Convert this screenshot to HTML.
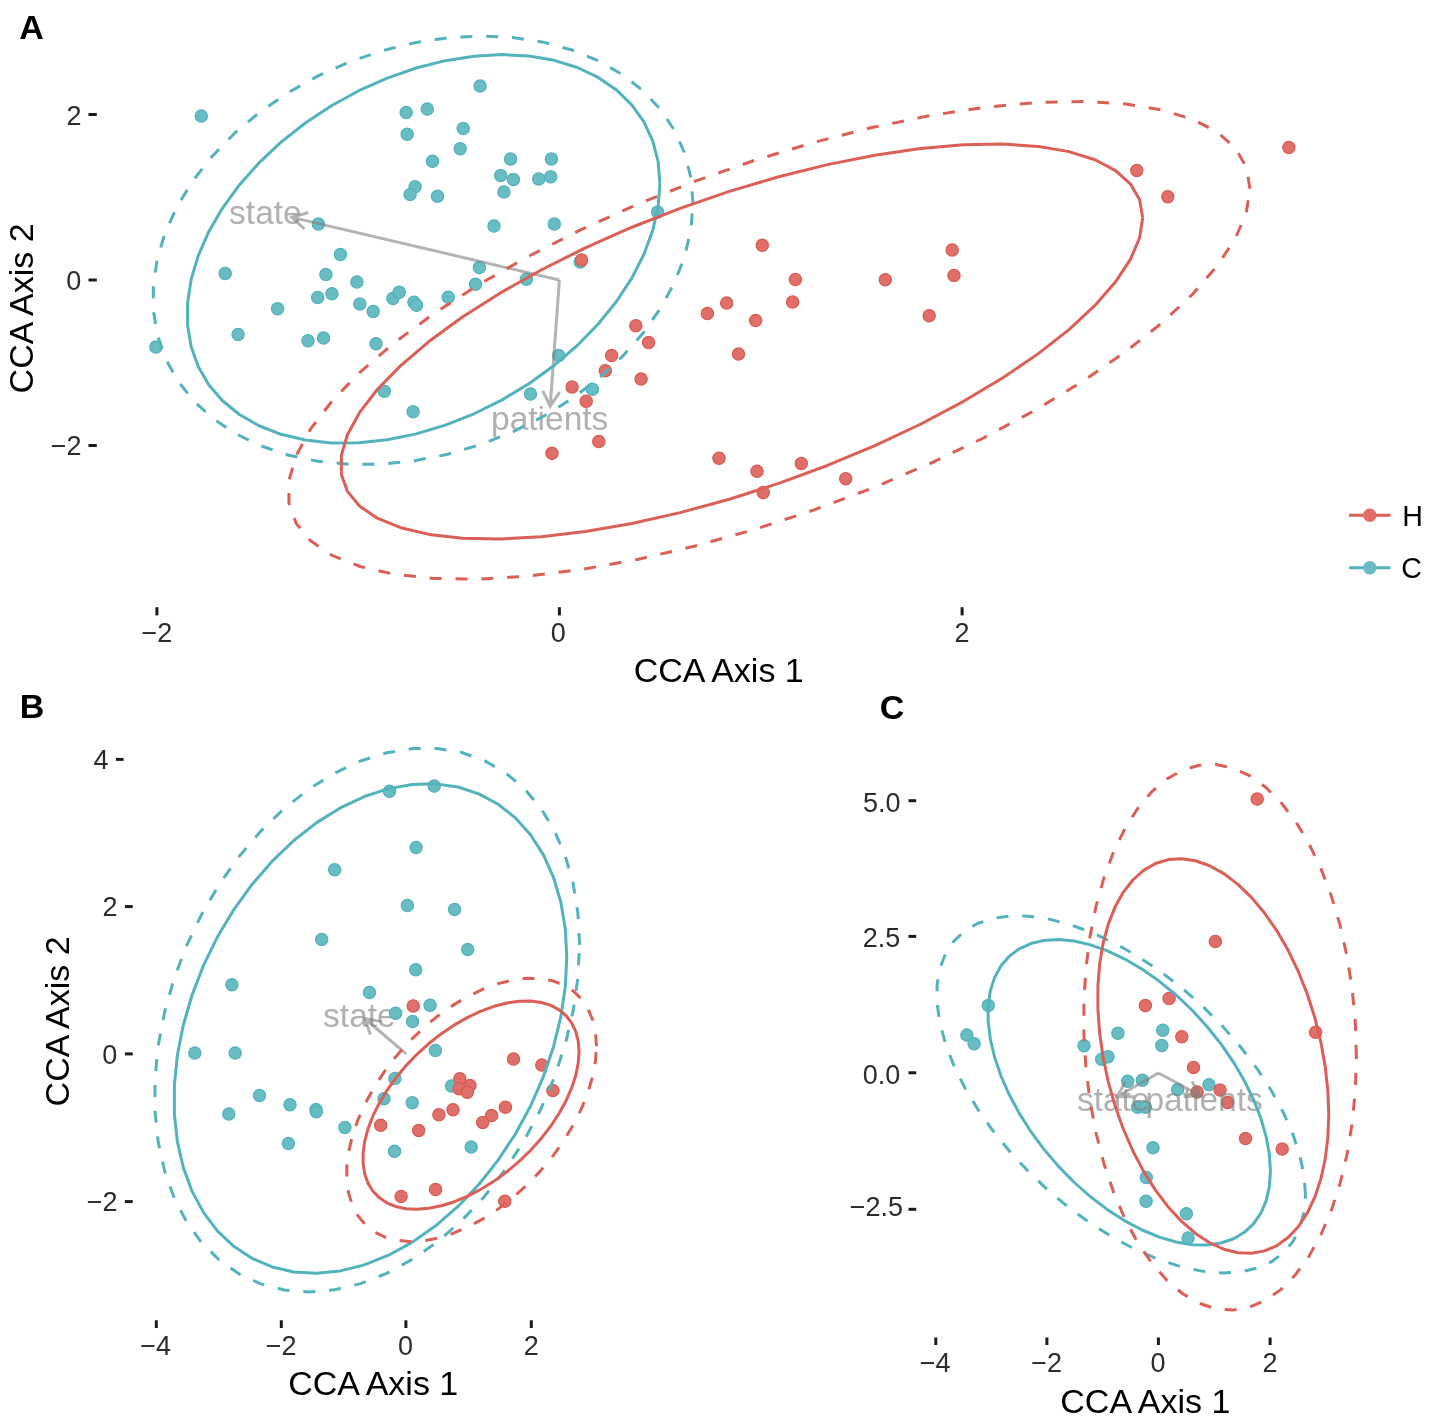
<!DOCTYPE html>
<html><head><meta charset="utf-8"><style>
html,body{margin:0;padding:0;background:#fff;overflow:hidden;}
svg{display:block;font-family:"Liberation Sans",sans-serif;}
svg{will-change:transform;}
</style></head><body>
<svg width="1430" height="1421" viewBox="0 0 1430 1421">
<rect width="1430" height="1421" fill="#fff"/>
<line x1="88.5" y1="114.5" x2="96.8" y2="114.5" stroke="#1a1a1a" stroke-width="3"/>
<line x1="88.5" y1="280.0" x2="96.8" y2="280.0" stroke="#1a1a1a" stroke-width="3"/>
<line x1="88.5" y1="445.5" x2="96.8" y2="445.5" stroke="#1a1a1a" stroke-width="3"/>
<line x1="156.9" y1="607.2" x2="156.9" y2="615.4" stroke="#1a1a1a" stroke-width="3"/>
<line x1="559.4" y1="607.2" x2="559.4" y2="615.4" stroke="#1a1a1a" stroke-width="3"/>
<line x1="962.1" y1="607.2" x2="962.1" y2="615.4" stroke="#1a1a1a" stroke-width="3"/>
<circle cx="201.3" cy="116.0" r="6.15" fill="#68BCC3" stroke="#52B2BA" stroke-width="1.2"/>
<circle cx="1288.9" cy="147.5" r="6.15" fill="#DF6F68" stroke="#D75B54" stroke-width="1.2"/>
<circle cx="225.2" cy="273.6" r="6.15" fill="#68BCC3" stroke="#52B2BA" stroke-width="1.2"/>
<circle cx="277.6" cy="308.8" r="6.15" fill="#68BCC3" stroke="#52B2BA" stroke-width="1.2"/>
<circle cx="238.1" cy="334.5" r="6.15" fill="#68BCC3" stroke="#52B2BA" stroke-width="1.2"/>
<circle cx="155.9" cy="347.1" r="6.15" fill="#68BCC3" stroke="#52B2BA" stroke-width="1.2"/>
<circle cx="318.4" cy="223.9" r="6.15" fill="#68BCC3" stroke="#52B2BA" stroke-width="1.2"/>
<circle cx="325.9" cy="274.6" r="6.15" fill="#68BCC3" stroke="#52B2BA" stroke-width="1.2"/>
<circle cx="317.7" cy="297.5" r="6.15" fill="#68BCC3" stroke="#52B2BA" stroke-width="1.2"/>
<circle cx="331.9" cy="293.7" r="6.15" fill="#68BCC3" stroke="#52B2BA" stroke-width="1.2"/>
<circle cx="308.0" cy="340.8" r="6.15" fill="#68BCC3" stroke="#52B2BA" stroke-width="1.2"/>
<circle cx="323.5" cy="338.1" r="6.15" fill="#68BCC3" stroke="#52B2BA" stroke-width="1.2"/>
<circle cx="340.4" cy="254.6" r="6.15" fill="#68BCC3" stroke="#52B2BA" stroke-width="1.2"/>
<circle cx="356.9" cy="282.0" r="6.15" fill="#68BCC3" stroke="#52B2BA" stroke-width="1.2"/>
<circle cx="359.8" cy="303.9" r="6.15" fill="#68BCC3" stroke="#52B2BA" stroke-width="1.2"/>
<circle cx="373.2" cy="311.6" r="6.15" fill="#68BCC3" stroke="#52B2BA" stroke-width="1.2"/>
<circle cx="392.9" cy="298.5" r="6.15" fill="#68BCC3" stroke="#52B2BA" stroke-width="1.2"/>
<circle cx="399.2" cy="292.2" r="6.15" fill="#68BCC3" stroke="#52B2BA" stroke-width="1.2"/>
<circle cx="414.0" cy="302.2" r="6.15" fill="#68BCC3" stroke="#52B2BA" stroke-width="1.2"/>
<circle cx="416.5" cy="305.3" r="6.15" fill="#68BCC3" stroke="#52B2BA" stroke-width="1.2"/>
<circle cx="448.2" cy="297.2" r="6.15" fill="#68BCC3" stroke="#52B2BA" stroke-width="1.2"/>
<circle cx="479.4" cy="267.5" r="6.15" fill="#68BCC3" stroke="#52B2BA" stroke-width="1.2"/>
<circle cx="475.5" cy="284.2" r="6.15" fill="#68BCC3" stroke="#52B2BA" stroke-width="1.2"/>
<circle cx="494.0" cy="226.0" r="6.15" fill="#68BCC3" stroke="#52B2BA" stroke-width="1.2"/>
<circle cx="376.0" cy="343.7" r="6.15" fill="#68BCC3" stroke="#52B2BA" stroke-width="1.2"/>
<circle cx="415.1" cy="186.8" r="6.15" fill="#68BCC3" stroke="#52B2BA" stroke-width="1.2"/>
<circle cx="410.1" cy="194.5" r="6.15" fill="#68BCC3" stroke="#52B2BA" stroke-width="1.2"/>
<circle cx="437.5" cy="196.2" r="6.15" fill="#68BCC3" stroke="#52B2BA" stroke-width="1.2"/>
<circle cx="503.9" cy="192.0" r="6.15" fill="#68BCC3" stroke="#52B2BA" stroke-width="1.2"/>
<circle cx="554.3" cy="224.1" r="6.15" fill="#68BCC3" stroke="#52B2BA" stroke-width="1.2"/>
<circle cx="657.6" cy="212.1" r="6.15" fill="#68BCC3" stroke="#52B2BA" stroke-width="1.2"/>
<circle cx="526.4" cy="279.2" r="6.15" fill="#68BCC3" stroke="#52B2BA" stroke-width="1.2"/>
<circle cx="580.2" cy="261.9" r="6.15" fill="#68BCC3" stroke="#52B2BA" stroke-width="1.2"/>
<circle cx="581.6" cy="259.9" r="6.15" fill="#DF6F68" stroke="#D75B54" stroke-width="1.2"/>
<circle cx="558.8" cy="355.6" r="6.15" fill="#68BCC3" stroke="#52B2BA" stroke-width="1.2"/>
<circle cx="635.8" cy="325.7" r="6.15" fill="#DF6F68" stroke="#D75B54" stroke-width="1.2"/>
<circle cx="648.6" cy="342.6" r="6.15" fill="#DF6F68" stroke="#D75B54" stroke-width="1.2"/>
<circle cx="611.6" cy="355.6" r="6.15" fill="#DF6F68" stroke="#D75B54" stroke-width="1.2"/>
<circle cx="605.3" cy="370.7" r="6.15" fill="#DF6F68" stroke="#D75B54" stroke-width="1.2"/>
<circle cx="480.1" cy="86.0" r="6.15" fill="#68BCC3" stroke="#52B2BA" stroke-width="1.2"/>
<circle cx="406.2" cy="112.5" r="6.15" fill="#68BCC3" stroke="#52B2BA" stroke-width="1.2"/>
<circle cx="427.3" cy="109.0" r="6.15" fill="#68BCC3" stroke="#52B2BA" stroke-width="1.2"/>
<circle cx="407.2" cy="134.3" r="6.15" fill="#68BCC3" stroke="#52B2BA" stroke-width="1.2"/>
<circle cx="463.2" cy="128.5" r="6.15" fill="#68BCC3" stroke="#52B2BA" stroke-width="1.2"/>
<circle cx="460.2" cy="148.7" r="6.15" fill="#68BCC3" stroke="#52B2BA" stroke-width="1.2"/>
<circle cx="432.5" cy="161.3" r="6.15" fill="#68BCC3" stroke="#52B2BA" stroke-width="1.2"/>
<circle cx="510.6" cy="158.9" r="6.15" fill="#68BCC3" stroke="#52B2BA" stroke-width="1.2"/>
<circle cx="551.4" cy="158.9" r="6.15" fill="#68BCC3" stroke="#52B2BA" stroke-width="1.2"/>
<circle cx="500.7" cy="175.4" r="6.15" fill="#68BCC3" stroke="#52B2BA" stroke-width="1.2"/>
<circle cx="513.4" cy="179.4" r="6.15" fill="#68BCC3" stroke="#52B2BA" stroke-width="1.2"/>
<circle cx="538.7" cy="178.9" r="6.15" fill="#68BCC3" stroke="#52B2BA" stroke-width="1.2"/>
<circle cx="550.7" cy="176.8" r="6.15" fill="#68BCC3" stroke="#52B2BA" stroke-width="1.2"/>
<circle cx="738.5" cy="354.1" r="6.15" fill="#DF6F68" stroke="#D75B54" stroke-width="1.2"/>
<circle cx="641.1" cy="379.1" r="6.15" fill="#DF6F68" stroke="#D75B54" stroke-width="1.2"/>
<circle cx="572.1" cy="386.9" r="6.15" fill="#DF6F68" stroke="#D75B54" stroke-width="1.2"/>
<circle cx="592.4" cy="389.3" r="6.15" fill="#68BCC3" stroke="#52B2BA" stroke-width="1.2"/>
<circle cx="586.2" cy="401.2" r="6.15" fill="#DF6F68" stroke="#D75B54" stroke-width="1.2"/>
<circle cx="598.8" cy="441.6" r="6.15" fill="#DF6F68" stroke="#D75B54" stroke-width="1.2"/>
<circle cx="552.0" cy="453.3" r="6.15" fill="#DF6F68" stroke="#D75B54" stroke-width="1.2"/>
<circle cx="719.0" cy="458.2" r="6.15" fill="#DF6F68" stroke="#D75B54" stroke-width="1.2"/>
<circle cx="762.3" cy="245.3" r="6.15" fill="#DF6F68" stroke="#D75B54" stroke-width="1.2"/>
<circle cx="795.4" cy="279.4" r="6.15" fill="#DF6F68" stroke="#D75B54" stroke-width="1.2"/>
<circle cx="726.7" cy="303.0" r="6.15" fill="#DF6F68" stroke="#D75B54" stroke-width="1.2"/>
<circle cx="707.4" cy="313.6" r="6.15" fill="#DF6F68" stroke="#D75B54" stroke-width="1.2"/>
<circle cx="792.6" cy="301.9" r="6.15" fill="#DF6F68" stroke="#D75B54" stroke-width="1.2"/>
<circle cx="755.6" cy="320.5" r="6.15" fill="#DF6F68" stroke="#D75B54" stroke-width="1.2"/>
<circle cx="885.3" cy="279.8" r="6.15" fill="#DF6F68" stroke="#D75B54" stroke-width="1.2"/>
<circle cx="952.2" cy="250.0" r="6.15" fill="#DF6F68" stroke="#D75B54" stroke-width="1.2"/>
<circle cx="954.0" cy="275.6" r="6.15" fill="#DF6F68" stroke="#D75B54" stroke-width="1.2"/>
<circle cx="929.2" cy="315.7" r="6.15" fill="#DF6F68" stroke="#D75B54" stroke-width="1.2"/>
<circle cx="384.3" cy="391.3" r="6.15" fill="#68BCC3" stroke="#52B2BA" stroke-width="1.2"/>
<circle cx="413.1" cy="411.8" r="6.15" fill="#68BCC3" stroke="#52B2BA" stroke-width="1.2"/>
<circle cx="530.5" cy="394.0" r="6.15" fill="#68BCC3" stroke="#52B2BA" stroke-width="1.2"/>
<circle cx="1136.8" cy="170.4" r="6.15" fill="#DF6F68" stroke="#D75B54" stroke-width="1.2"/>
<circle cx="1167.8" cy="196.7" r="6.15" fill="#DF6F68" stroke="#D75B54" stroke-width="1.2"/>
<circle cx="757.0" cy="471.2" r="6.15" fill="#DF6F68" stroke="#D75B54" stroke-width="1.2"/>
<circle cx="801.3" cy="463.6" r="6.15" fill="#DF6F68" stroke="#D75B54" stroke-width="1.2"/>
<circle cx="763.3" cy="492.4" r="6.15" fill="#DF6F68" stroke="#D75B54" stroke-width="1.2"/>
<circle cx="845.7" cy="478.7" r="6.15" fill="#DF6F68" stroke="#D75B54" stroke-width="1.2"/>
<g stroke="#808080" stroke-opacity="0.6" stroke-width="3" fill="none"><path d="M559.4 280.0 L292.0 217.4 M308.3 212.5 L292.0 217.4 L304.4 229.0"/><path d="M559.4 280.0 L550.2 406.2 M542.8 390.9 L550.2 406.2 L559.7 392.1"/></g>
<text x="229.10" y="224.30" font-size="33.5" font-weight="400" text-anchor="start" fill="#808080" fill-opacity="0.62">state</text>
<text x="491.00" y="430.00" font-size="33.5" font-weight="400" text-anchor="start" fill="#808080" fill-opacity="0.62">patients</text>
<path d="M659.92 183.70 L658.13 161.71 L652.78 141.03 L643.95 121.99 L631.79 104.87 L616.47 89.94 L598.22 77.41 L577.32 67.49 L554.10 60.32 L528.89 56.01 L502.09 54.62 L474.09 56.17 L445.33 60.65 L416.24 67.98 L387.26 78.06 L358.83 90.72 L331.38 105.79 L305.32 123.02 L281.06 142.16 L258.96 162.92 L239.35 184.99 L222.53 208.02 L208.76 231.67 L198.25 255.59 L191.15 279.40 L187.57 302.76 L187.57 325.29 L191.15 346.67 L198.25 366.57 L208.76 384.68 L222.53 400.74 L239.35 414.49 L258.96 425.73 L281.06 434.30 L305.32 440.05 L331.38 442.91 L358.83 442.83 L387.26 439.80 L416.24 433.89 L445.33 425.17 L474.09 413.77 L502.09 399.88 L528.89 383.70 L554.10 365.48 L577.32 345.49 L598.22 324.04 L616.47 301.45 L631.79 278.06 L643.95 254.23 L652.78 230.32 L658.13 206.69 L659.92 183.70" fill="none" stroke="#52B3BC" stroke-width="3.0" stroke-linejoin="round"/>
<path d="M693.00 203.24 L690.95 177.90 L684.84 153.66 L674.76 130.88 L660.86 109.92 L643.35 91.08 L622.51 74.66 L598.63 60.90 L572.09 50.01 L543.29 42.16 L512.67 37.47 L480.68 36.00 L447.82 37.78 L414.58 42.78 L381.47 50.93 L348.98 62.10 L317.62 76.13 L287.85 92.79 L260.12 111.85 L234.87 133.00 L212.47 155.93 L193.25 180.29 L177.52 205.72 L165.51 231.82 L157.39 258.20 L153.31 284.46 L153.31 310.21 L157.39 335.04 L165.51 358.59 L177.52 380.51 L193.25 400.44 L212.47 418.11 L234.87 433.23 L260.12 445.57 L287.85 454.96 L317.62 461.25 L348.98 464.33 L381.47 464.18 L414.58 460.78 L447.82 454.19 L480.68 444.51 L512.67 431.89 L543.29 416.52 L572.09 398.62 L598.63 378.48 L622.51 356.40 L643.35 332.71 L660.86 307.77 L674.76 281.95 L684.84 255.66 L690.95 229.29 L693.00 203.24" fill="none" stroke="#52B3BC" stroke-width="3.0" stroke-linejoin="round" stroke-dasharray="12.0 13.85"/>
<path d="M1142.68 217.86 L1139.64 199.87 L1130.57 184.03 L1115.60 170.58 L1094.96 159.72 L1068.97 151.61 L1038.01 146.38 L1002.57 144.11 L963.16 144.84 L920.40 148.54 L874.93 155.17 L827.43 164.63 L778.64 176.76 L729.29 191.40 L680.12 208.31 L631.88 227.23 L585.31 247.90 L541.11 269.98 L499.95 293.14 L462.45 317.04 L429.19 341.31 L400.66 365.58 L377.30 389.48 L359.46 412.66 L347.42 434.77 L341.35 455.45 L341.35 474.41 L347.42 491.36 L359.46 506.03 L377.30 518.21 L400.66 527.72 L429.19 534.39 L462.45 538.15 L499.95 538.92 L541.11 536.71 L585.31 531.53 L631.88 523.47 L680.12 512.65 L729.29 499.24 L778.64 483.44 L827.43 465.49 L874.93 445.66 L920.40 424.25 L963.16 401.58 L1002.57 378.01 L1038.01 353.88 L1068.97 329.56 L1094.96 305.43 L1115.60 281.84 L1130.57 259.15 L1139.64 237.72 L1142.68 217.86" fill="none" stroke="#DB5F57" stroke-width="3.0" stroke-linejoin="round"/>
<path d="M1249.98 188.64 L1246.34 167.10 L1235.46 148.19 L1217.50 132.19 L1192.75 119.35 L1161.58 109.85 L1124.45 103.85 L1081.94 101.43 L1034.68 102.64 L983.39 107.45 L928.86 115.79 L871.90 127.53 L813.38 142.50 L754.19 160.47 L695.22 181.16 L637.37 204.27 L581.52 229.44 L528.51 256.29 L479.14 284.42 L434.17 313.39 L394.27 342.77 L360.06 372.12 L332.04 400.98 L310.65 428.92 L296.21 455.52 L288.93 480.38 L288.93 503.11 L296.21 523.37 L310.65 540.86 L332.04 555.31 L360.06 566.50 L394.27 574.26 L434.17 578.48 L479.14 579.09 L528.51 576.07 L581.52 569.49 L637.37 559.43 L695.22 546.04 L754.19 529.54 L813.38 510.18 L871.90 488.23 L928.86 464.05 L983.39 437.99 L1034.68 410.45 L1081.94 381.84 L1124.45 352.61 L1161.58 323.19 L1192.75 294.03 L1217.50 265.58 L1235.46 238.25 L1246.34 212.48 L1249.98 188.64" fill="none" stroke="#DB5F57" stroke-width="3.0" stroke-linejoin="round" stroke-dasharray="12.0 13.85"/>
<line x1="1349" y1="515.3" x2="1390.5" y2="515.3" stroke="#DB5F57" stroke-width="3"/><circle cx="1369.8" cy="515.3" r="6.75" fill="#DF6F68"/>
<line x1="1349" y1="567.8" x2="1390.5" y2="567.8" stroke="#52B3BC" stroke-width="3"/><circle cx="1369.8" cy="567.8" r="6.75" fill="#68BCC3"/>
<line x1="115.9" y1="759.4" x2="123.6" y2="759.4" stroke="#1a1a1a" stroke-width="3"/>
<line x1="124.9" y1="906.6" x2="132.7" y2="906.6" stroke="#1a1a1a" stroke-width="3"/>
<line x1="124.9" y1="1053.9" x2="132.7" y2="1053.9" stroke="#1a1a1a" stroke-width="3"/>
<line x1="124.9" y1="1201.6" x2="132.7" y2="1201.6" stroke="#1a1a1a" stroke-width="3"/>
<line x1="156.3" y1="1320.3" x2="156.3" y2="1328" stroke="#1a1a1a" stroke-width="3"/>
<line x1="281.3" y1="1320.3" x2="281.3" y2="1328" stroke="#1a1a1a" stroke-width="3"/>
<line x1="405.9" y1="1320.3" x2="405.9" y2="1328" stroke="#1a1a1a" stroke-width="3"/>
<line x1="531.3" y1="1320.3" x2="531.3" y2="1328" stroke="#1a1a1a" stroke-width="3"/>
<g stroke="#808080" stroke-opacity="0.6" stroke-width="3" fill="none"><path d="M406.1 1053.9 L364.8 1018.5 M381.5 1021.6 L364.8 1018.5 L370.4 1034.5"/></g>
<text x="323.10" y="1027.30" font-size="33.5" font-weight="400" text-anchor="start" fill="#808080" fill-opacity="0.62">state</text>
<circle cx="334.7" cy="869.8" r="6.15" fill="#68BCC3" stroke="#52B2BA" stroke-width="1.2"/>
<circle cx="389.5" cy="791.2" r="6.15" fill="#68BCC3" stroke="#52B2BA" stroke-width="1.2"/>
<circle cx="434.2" cy="786.0" r="6.15" fill="#68BCC3" stroke="#52B2BA" stroke-width="1.2"/>
<circle cx="416.1" cy="847.5" r="6.15" fill="#68BCC3" stroke="#52B2BA" stroke-width="1.2"/>
<circle cx="407.4" cy="905.6" r="6.15" fill="#68BCC3" stroke="#52B2BA" stroke-width="1.2"/>
<circle cx="454.6" cy="909.5" r="6.15" fill="#68BCC3" stroke="#52B2BA" stroke-width="1.2"/>
<circle cx="467.7" cy="949.6" r="6.15" fill="#68BCC3" stroke="#52B2BA" stroke-width="1.2"/>
<circle cx="321.7" cy="939.4" r="6.15" fill="#68BCC3" stroke="#52B2BA" stroke-width="1.2"/>
<circle cx="231.9" cy="984.7" r="6.15" fill="#68BCC3" stroke="#52B2BA" stroke-width="1.2"/>
<circle cx="194.8" cy="1053.0" r="6.15" fill="#68BCC3" stroke="#52B2BA" stroke-width="1.2"/>
<circle cx="235.2" cy="1053.0" r="6.15" fill="#68BCC3" stroke="#52B2BA" stroke-width="1.2"/>
<circle cx="259.5" cy="1095.6" r="6.15" fill="#68BCC3" stroke="#52B2BA" stroke-width="1.2"/>
<circle cx="290.0" cy="1104.7" r="6.15" fill="#68BCC3" stroke="#52B2BA" stroke-width="1.2"/>
<circle cx="316.0" cy="1109.5" r="6.15" fill="#68BCC3" stroke="#52B2BA" stroke-width="1.2"/>
<circle cx="316.3" cy="1111.8" r="6.15" fill="#68BCC3" stroke="#52B2BA" stroke-width="1.2"/>
<circle cx="228.8" cy="1114.0" r="6.15" fill="#68BCC3" stroke="#52B2BA" stroke-width="1.2"/>
<circle cx="415.7" cy="969.7" r="6.15" fill="#68BCC3" stroke="#52B2BA" stroke-width="1.2"/>
<circle cx="369.5" cy="992.5" r="6.15" fill="#68BCC3" stroke="#52B2BA" stroke-width="1.2"/>
<circle cx="430.1" cy="1005.2" r="6.15" fill="#68BCC3" stroke="#52B2BA" stroke-width="1.2"/>
<circle cx="395.6" cy="1013.2" r="6.15" fill="#68BCC3" stroke="#52B2BA" stroke-width="1.2"/>
<circle cx="412.6" cy="1021.6" r="6.15" fill="#68BCC3" stroke="#52B2BA" stroke-width="1.2"/>
<circle cx="435.4" cy="1050.6" r="6.15" fill="#68BCC3" stroke="#52B2BA" stroke-width="1.2"/>
<circle cx="394.9" cy="1078.6" r="6.15" fill="#68BCC3" stroke="#52B2BA" stroke-width="1.2"/>
<circle cx="451.5" cy="1086.0" r="6.15" fill="#68BCC3" stroke="#52B2BA" stroke-width="1.2"/>
<circle cx="384.0" cy="1098.7" r="6.15" fill="#68BCC3" stroke="#52B2BA" stroke-width="1.2"/>
<circle cx="412.2" cy="1102.7" r="6.15" fill="#68BCC3" stroke="#52B2BA" stroke-width="1.2"/>
<circle cx="344.9" cy="1127.4" r="6.15" fill="#68BCC3" stroke="#52B2BA" stroke-width="1.2"/>
<circle cx="288.4" cy="1143.6" r="6.15" fill="#68BCC3" stroke="#52B2BA" stroke-width="1.2"/>
<circle cx="394.5" cy="1151.2" r="6.15" fill="#68BCC3" stroke="#52B2BA" stroke-width="1.2"/>
<circle cx="471.2" cy="1147.0" r="6.15" fill="#68BCC3" stroke="#52B2BA" stroke-width="1.2"/>
<circle cx="413.2" cy="1005.9" r="6.15" fill="#DF6F68" stroke="#D75B54" stroke-width="1.2"/>
<circle cx="513.5" cy="1059.1" r="6.15" fill="#DF6F68" stroke="#D75B54" stroke-width="1.2"/>
<circle cx="459.8" cy="1078.7" r="6.15" fill="#DF6F68" stroke="#D75B54" stroke-width="1.2"/>
<circle cx="470.0" cy="1085.6" r="6.15" fill="#DF6F68" stroke="#D75B54" stroke-width="1.2"/>
<circle cx="459.0" cy="1088.7" r="6.15" fill="#DF6F68" stroke="#D75B54" stroke-width="1.2"/>
<circle cx="467.3" cy="1092.3" r="6.15" fill="#DF6F68" stroke="#D75B54" stroke-width="1.2"/>
<circle cx="453.0" cy="1109.7" r="6.15" fill="#DF6F68" stroke="#D75B54" stroke-width="1.2"/>
<circle cx="438.9" cy="1114.7" r="6.15" fill="#DF6F68" stroke="#D75B54" stroke-width="1.2"/>
<circle cx="505.4" cy="1107.2" r="6.15" fill="#DF6F68" stroke="#D75B54" stroke-width="1.2"/>
<circle cx="491.6" cy="1115.6" r="6.15" fill="#DF6F68" stroke="#D75B54" stroke-width="1.2"/>
<circle cx="482.7" cy="1122.4" r="6.15" fill="#DF6F68" stroke="#D75B54" stroke-width="1.2"/>
<circle cx="380.7" cy="1125.2" r="6.15" fill="#DF6F68" stroke="#D75B54" stroke-width="1.2"/>
<circle cx="418.7" cy="1130.4" r="6.15" fill="#DF6F68" stroke="#D75B54" stroke-width="1.2"/>
<circle cx="401.1" cy="1196.5" r="6.15" fill="#DF6F68" stroke="#D75B54" stroke-width="1.2"/>
<circle cx="435.6" cy="1189.5" r="6.15" fill="#DF6F68" stroke="#D75B54" stroke-width="1.2"/>
<circle cx="504.8" cy="1201.2" r="6.15" fill="#DF6F68" stroke="#D75B54" stroke-width="1.2"/>
<circle cx="541.8" cy="1065.0" r="6.15" fill="#DF6F68" stroke="#D75B54" stroke-width="1.2"/>
<circle cx="552.9" cy="1090.4" r="6.15" fill="#DF6F68" stroke="#D75B54" stroke-width="1.2"/>
<path d="M566.79 957.29 L565.30 929.04 L560.86 902.29 L553.53 877.46 L543.42 854.92 L530.69 835.02 L515.53 818.04 L498.17 804.25 L478.88 793.87 L457.94 787.04 L435.67 783.87 L412.41 784.41 L388.52 788.64 L364.35 796.52 L340.27 807.91 L316.65 822.64 L293.85 840.50 L272.20 861.20 L252.05 884.44 L233.68 909.87 L217.39 937.09 L203.42 965.70 L191.98 995.26 L183.25 1025.32 L177.35 1055.43 L174.38 1085.14 L174.38 1113.98 L177.35 1141.53 L183.25 1167.36 L191.98 1191.09 L203.42 1212.36 L217.39 1230.84 L233.68 1246.25 L252.05 1258.36 L272.20 1266.98 L293.85 1271.99 L316.65 1273.31 L340.27 1270.91 L364.35 1264.85 L388.52 1255.20 L412.41 1242.11 L435.67 1225.78 L457.94 1206.47 L478.88 1184.45 L498.17 1160.07 L515.53 1133.70 L530.69 1105.73 L543.42 1076.59 L553.53 1046.72 L560.86 1016.58 L565.30 986.62 L566.79 957.29" fill="none" stroke="#52B3BC" stroke-width="3.0" stroke-linejoin="round"/>
<path d="M579.54 944.94 L577.93 913.39 L573.12 883.44 L565.19 855.57 L554.25 830.20 L540.48 807.69 L524.08 788.41 L505.29 772.64 L484.42 760.62 L461.76 752.53 L437.66 748.49 L412.50 748.57 L386.65 752.76 L360.50 761.01 L334.45 773.18 L308.89 789.09 L284.21 808.51 L260.79 831.12 L238.98 856.61 L219.12 884.57 L201.49 914.58 L186.37 946.19 L174.00 978.92 L164.55 1012.27 L158.16 1045.74 L154.95 1078.82 L154.95 1111.00 L158.16 1141.81 L164.55 1170.77 L174.00 1197.45 L186.37 1221.43 L201.49 1242.36 L219.12 1259.92 L238.98 1273.85 L260.79 1283.92 L284.21 1290.00 L308.89 1291.98 L334.45 1289.84 L360.50 1283.61 L386.65 1273.38 L412.50 1259.31 L437.66 1241.62 L461.76 1220.56 L484.42 1196.46 L505.29 1169.69 L524.08 1140.65 L540.48 1109.78 L554.25 1077.55 L565.19 1044.45 L573.12 1010.97 L577.93 977.64 L579.54 944.94" fill="none" stroke="#52B3BC" stroke-width="3.0" stroke-linejoin="round" stroke-dasharray="12.0 13.85"/>
<path d="M579.06 1051.75 L578.24 1041.16 L575.80 1031.54 L571.76 1023.04 L566.20 1015.78 L559.20 1009.87 L550.85 1005.41 L541.30 1002.45 L530.68 1001.06 L519.16 1001.24 L506.91 1003.00 L494.11 1006.30 L480.96 1011.11 L467.66 1017.34 L454.41 1024.90 L441.41 1033.67 L428.86 1043.53 L416.95 1054.32 L405.86 1065.88 L395.75 1078.04 L386.79 1090.61 L379.10 1103.40 L372.80 1116.21 L368.00 1128.86 L364.75 1141.14 L363.12 1152.88 L363.12 1163.90 L364.75 1174.02 L368.00 1183.10 L372.80 1191.00 L379.10 1197.60 L386.79 1202.79 L395.75 1206.51 L405.86 1208.68 L416.95 1209.29 L428.86 1208.32 L441.41 1205.78 L454.41 1201.72 L467.66 1196.19 L480.96 1189.29 L494.11 1181.10 L506.91 1171.77 L519.16 1161.42 L530.68 1150.23 L541.30 1138.34 L550.85 1125.96 L559.20 1113.26 L566.20 1100.43 L571.76 1087.68 L575.80 1075.19 L578.24 1063.15 L579.06 1051.75" fill="none" stroke="#DB5F57" stroke-width="3.0" stroke-linejoin="round"/>
<path d="M596.46 1046.21 L595.52 1032.52 L592.69 1020.00 L588.03 1008.85 L581.60 999.22 L573.50 991.28 L563.86 985.13 L552.81 980.87 L540.54 978.57 L527.22 978.25 L513.05 979.94 L498.26 983.59 L483.06 989.15 L467.68 996.55 L452.37 1005.66 L437.34 1016.36 L422.84 1028.47 L409.07 1041.81 L396.24 1056.19 L384.56 1071.38 L374.20 1087.15 L365.31 1103.27 L358.04 1119.49 L352.48 1135.56 L348.73 1151.24 L346.84 1166.30 L346.84 1180.49 L348.73 1193.62 L352.48 1205.48 L358.04 1215.89 L365.31 1224.69 L374.20 1231.75 L384.56 1236.97 L396.24 1240.26 L409.07 1241.57 L422.84 1240.88 L437.34 1238.21 L452.37 1233.59 L467.68 1227.10 L483.06 1218.82 L498.26 1208.90 L513.05 1197.48 L527.22 1184.73 L540.54 1170.84 L552.81 1156.03 L563.86 1140.52 L573.50 1124.54 L581.60 1108.34 L588.03 1092.17 L592.69 1076.26 L595.52 1060.87 L596.46 1046.21" fill="none" stroke="#DB5F57" stroke-width="3.0" stroke-linejoin="round" stroke-dasharray="12.0 13.85"/>
<line x1="908.5" y1="800.7" x2="916.2" y2="800.7" stroke="#1a1a1a" stroke-width="3"/>
<line x1="908.5" y1="936.4" x2="916.2" y2="936.4" stroke="#1a1a1a" stroke-width="3"/>
<line x1="908.5" y1="1072.8" x2="916.2" y2="1072.8" stroke="#1a1a1a" stroke-width="3"/>
<line x1="908.5" y1="1209.3" x2="916.2" y2="1209.3" stroke="#1a1a1a" stroke-width="3"/>
<line x1="935.8" y1="1337.5" x2="935.8" y2="1345" stroke="#1a1a1a" stroke-width="3"/>
<line x1="1046.9" y1="1337.5" x2="1046.9" y2="1345" stroke="#1a1a1a" stroke-width="3"/>
<line x1="1158.4" y1="1337.5" x2="1158.4" y2="1345" stroke="#1a1a1a" stroke-width="3"/>
<line x1="1270.1" y1="1337.5" x2="1270.1" y2="1345" stroke="#1a1a1a" stroke-width="3"/>
<circle cx="988.3" cy="1005.6" r="6.15" fill="#68BCC3" stroke="#52B2BA" stroke-width="1.2"/>
<circle cx="966.9" cy="1035.0" r="6.15" fill="#68BCC3" stroke="#52B2BA" stroke-width="1.2"/>
<circle cx="974.1" cy="1043.8" r="6.15" fill="#68BCC3" stroke="#52B2BA" stroke-width="1.2"/>
<circle cx="1117.9" cy="1033.2" r="6.15" fill="#68BCC3" stroke="#52B2BA" stroke-width="1.2"/>
<circle cx="1084.0" cy="1045.7" r="6.15" fill="#68BCC3" stroke="#52B2BA" stroke-width="1.2"/>
<circle cx="1101.7" cy="1059.3" r="6.15" fill="#68BCC3" stroke="#52B2BA" stroke-width="1.2"/>
<circle cx="1108.0" cy="1056.7" r="6.15" fill="#68BCC3" stroke="#52B2BA" stroke-width="1.2"/>
<circle cx="1162.8" cy="1030.3" r="6.15" fill="#68BCC3" stroke="#52B2BA" stroke-width="1.2"/>
<circle cx="1161.8" cy="1045.6" r="6.15" fill="#68BCC3" stroke="#52B2BA" stroke-width="1.2"/>
<circle cx="1127.7" cy="1081.3" r="6.15" fill="#68BCC3" stroke="#52B2BA" stroke-width="1.2"/>
<circle cx="1142.4" cy="1080.2" r="6.15" fill="#68BCC3" stroke="#52B2BA" stroke-width="1.2"/>
<circle cx="1177.6" cy="1089.5" r="6.15" fill="#68BCC3" stroke="#52B2BA" stroke-width="1.2"/>
<circle cx="1209.0" cy="1084.8" r="6.15" fill="#68BCC3" stroke="#52B2BA" stroke-width="1.2"/>
<circle cx="1137.6" cy="1107.3" r="6.15" fill="#68BCC3" stroke="#52B2BA" stroke-width="1.2"/>
<circle cx="1145.3" cy="1107.3" r="6.15" fill="#68BCC3" stroke="#52B2BA" stroke-width="1.2"/>
<circle cx="1153.0" cy="1147.8" r="6.15" fill="#68BCC3" stroke="#52B2BA" stroke-width="1.2"/>
<circle cx="1146.3" cy="1177.4" r="6.15" fill="#68BCC3" stroke="#52B2BA" stroke-width="1.2"/>
<circle cx="1146.1" cy="1201.3" r="6.15" fill="#68BCC3" stroke="#52B2BA" stroke-width="1.2"/>
<circle cx="1186.4" cy="1213.7" r="6.15" fill="#68BCC3" stroke="#52B2BA" stroke-width="1.2"/>
<circle cx="1188.1" cy="1237.9" r="6.15" fill="#68BCC3" stroke="#52B2BA" stroke-width="1.2"/>
<circle cx="1257.2" cy="799.0" r="6.15" fill="#DF6F68" stroke="#D75B54" stroke-width="1.2"/>
<circle cx="1215.4" cy="941.5" r="6.15" fill="#DF6F68" stroke="#D75B54" stroke-width="1.2"/>
<circle cx="1169.1" cy="998.6" r="6.15" fill="#DF6F68" stroke="#D75B54" stroke-width="1.2"/>
<circle cx="1145.4" cy="1005.4" r="6.15" fill="#DF6F68" stroke="#D75B54" stroke-width="1.2"/>
<circle cx="1181.8" cy="1036.8" r="6.15" fill="#DF6F68" stroke="#D75B54" stroke-width="1.2"/>
<circle cx="1315.6" cy="1032.3" r="6.15" fill="#DF6F68" stroke="#D75B54" stroke-width="1.2"/>
<circle cx="1193.5" cy="1067.4" r="6.15" fill="#DF6F68" stroke="#D75B54" stroke-width="1.2"/>
<circle cx="1197.1" cy="1092.0" r="6.15" fill="#DF6F68" stroke="#D75B54" stroke-width="1.2"/>
<circle cx="1220.1" cy="1090.1" r="6.15" fill="#DF6F68" stroke="#D75B54" stroke-width="1.2"/>
<circle cx="1227.7" cy="1102.5" r="6.15" fill="#DF6F68" stroke="#D75B54" stroke-width="1.2"/>
<circle cx="1245.5" cy="1138.6" r="6.15" fill="#DF6F68" stroke="#D75B54" stroke-width="1.2"/>
<circle cx="1282.2" cy="1149.1" r="6.15" fill="#DF6F68" stroke="#D75B54" stroke-width="1.2"/>
<g stroke="#808080" stroke-opacity="0.6" stroke-width="3" fill="none"><path d="M1158.5 1073.0 L1116.9 1096.7 M1125.5 1082.0 L1116.9 1096.7 L1133.9 1096.8"/><path d="M1158.5 1073.0 L1200.8 1096.0 M1183.8 1096.4 L1200.8 1096.0 L1191.9 1081.5"/></g>
<text x="1076.90" y="1111.40" font-size="33.5" font-weight="400" text-anchor="start" fill="#808080" fill-opacity="0.62">state</text>
<text x="1145.40" y="1111.10" font-size="33.5" font-weight="400" text-anchor="start" fill="#808080" fill-opacity="0.62">patients</text>
<path d="M1270.44 1171.12 L1269.37 1154.43 L1266.17 1136.80 L1260.90 1118.50 L1253.63 1099.80 L1244.47 1080.98 L1233.57 1062.35 L1221.08 1044.16 L1207.20 1026.71 L1192.14 1010.25 L1176.12 995.03 L1159.39 981.30 L1142.20 969.24 L1124.82 959.05 L1107.50 950.88 L1090.51 944.86 L1074.11 941.07 L1058.54 939.58 L1044.04 940.40 L1030.83 943.53 L1019.11 948.91 L1009.06 956.46 L1000.83 966.08 L994.55 977.61 L990.31 990.88 L988.17 1005.69 L988.17 1021.81 L990.31 1039.00 L994.55 1057.00 L1000.83 1075.54 L1009.06 1094.33 L1019.11 1113.09 L1030.83 1131.54 L1044.04 1149.39 L1058.54 1166.38 L1074.11 1182.25 L1090.51 1196.75 L1107.50 1209.67 L1124.82 1220.81 L1142.20 1230.01 L1159.39 1237.12 L1176.12 1242.03 L1192.14 1244.68 L1207.20 1245.01 L1221.08 1243.04 L1233.57 1238.78 L1244.47 1232.29 L1253.63 1223.69 L1260.90 1213.10 L1266.17 1200.68 L1269.37 1186.61 L1270.44 1171.12" fill="none" stroke="#52B3BC" stroke-width="3.0" stroke-linejoin="round"/>
<path d="M1305.47 1194.79 L1304.07 1175.88 L1299.90 1155.72 L1293.02 1134.64 L1283.53 1112.95 L1271.58 1090.98 L1257.35 1069.05 L1241.06 1047.51 L1222.94 1026.68 L1203.28 1006.88 L1182.38 988.41 L1160.55 971.54 L1138.12 956.53 L1115.43 943.61 L1092.83 932.97 L1070.65 924.79 L1049.24 919.17 L1028.92 916.21 L1010.00 915.95 L992.76 918.40 L977.47 923.51 L964.36 931.21 L953.62 941.39 L945.42 953.88 L939.88 968.51 L937.09 985.04 L937.09 1003.23 L939.88 1022.80 L945.42 1043.46 L953.62 1064.89 L964.36 1086.76 L977.47 1108.75 L992.76 1130.52 L1010.00 1151.75 L1028.92 1172.10 L1049.24 1191.28 L1070.65 1208.99 L1092.83 1224.96 L1115.43 1238.95 L1138.12 1250.74 L1160.55 1260.17 L1182.38 1267.09 L1203.28 1271.38 L1222.94 1273.00 L1241.06 1271.90 L1257.35 1268.11 L1271.58 1261.69 L1283.53 1252.74 L1293.02 1241.38 L1299.90 1227.80 L1304.07 1212.19 L1305.47 1194.79" fill="none" stroke="#52B3BC" stroke-width="3.0" stroke-linejoin="round" stroke-dasharray="12.0 13.85"/>
<path d="M1328.74 1114.48 L1327.87 1090.86 L1325.25 1066.71 L1320.94 1042.41 L1314.99 1018.31 L1307.51 994.78 L1298.59 972.18 L1288.38 950.85 L1277.03 931.12 L1264.71 913.28 L1251.61 897.61 L1237.93 884.34 L1223.88 873.67 L1209.66 865.76 L1195.50 860.74 L1181.60 858.68 L1168.19 859.61 L1155.46 863.52 L1143.60 870.35 L1132.80 880.00 L1123.22 892.31 L1115.00 907.10 L1108.27 924.16 L1103.13 943.21 L1099.66 963.97 L1097.91 986.13 L1097.91 1009.35 L1099.66 1033.27 L1103.13 1057.55 L1108.27 1081.80 L1115.00 1105.65 L1123.22 1128.76 L1132.80 1150.77 L1143.60 1171.33 L1155.46 1190.16 L1168.19 1206.94 L1181.60 1221.45 L1195.50 1233.44 L1209.66 1242.74 L1223.88 1249.22 L1237.93 1252.77 L1251.61 1253.33 L1264.71 1250.90 L1277.03 1245.53 L1288.38 1237.27 L1298.59 1226.27 L1307.51 1212.69 L1314.99 1196.74 L1320.94 1178.65 L1325.25 1158.71 L1327.87 1137.21 L1328.74 1114.48" fill="none" stroke="#DB5F57" stroke-width="3.0" stroke-linejoin="round"/>
<path d="M1356.37 1056.71 L1355.34 1023.11 L1352.25 989.72 L1347.16 957.05 L1340.15 925.60 L1331.31 895.84 L1320.78 868.23 L1308.73 843.18 L1295.33 821.06 L1280.79 802.23 L1265.33 786.96 L1249.18 775.48 L1232.59 767.98 L1215.81 764.55 L1199.09 765.26 L1182.69 770.09 L1166.85 778.97 L1151.82 791.76 L1137.83 808.28 L1125.08 828.27 L1113.76 851.42 L1104.06 877.40 L1096.12 905.79 L1090.06 936.18 L1085.96 968.10 L1083.90 1001.07 L1083.90 1034.59 L1085.96 1068.15 L1090.06 1101.24 L1096.12 1133.36 L1104.06 1164.02 L1113.76 1192.76 L1125.08 1219.14 L1137.83 1242.77 L1151.82 1263.28 L1166.85 1280.36 L1182.69 1293.76 L1199.09 1303.27 L1215.81 1308.75 L1232.59 1310.11 L1249.18 1307.34 L1265.33 1300.47 L1280.79 1289.61 L1295.33 1274.93 L1308.73 1256.64 L1320.78 1235.03 L1331.31 1210.42 L1340.15 1183.18 L1347.16 1153.73 L1352.25 1122.52 L1355.34 1090.01 L1356.37 1056.71" fill="none" stroke="#DB5F57" stroke-width="3.0" stroke-linejoin="round" stroke-dasharray="12.0 13.85"/>
<text x="19.30" y="38.80" font-size="34" font-weight="700" text-anchor="start" fill="#000">A</text>
<text x="19.80" y="717.70" font-size="34" font-weight="700" text-anchor="start" fill="#000">B</text>
<text x="879.70" y="718.50" font-size="34" font-weight="700" text-anchor="start" fill="#000">C</text>
<text x="81.60" y="124.65" font-size="27" font-weight="400" text-anchor="end" fill="#2b2b2b">2</text>
<text x="81.40" y="289.95" font-size="27" font-weight="400" text-anchor="end" fill="#2b2b2b">0</text>
<text x="81.50" y="455.05" font-size="27" font-weight="400" text-anchor="end" fill="#2b2b2b">&#8722;2</text>
<text x="156.95" y="641.80" font-size="27" font-weight="400" text-anchor="middle" fill="#2b2b2b">&#8722;2</text>
<text x="558.35" y="641.85" font-size="27" font-weight="400" text-anchor="middle" fill="#2b2b2b">0</text>
<text x="961.90" y="641.65" font-size="27" font-weight="400" text-anchor="middle" fill="#2b2b2b">2</text>
<text x="108.50" y="769.15" font-size="27" font-weight="400" text-anchor="end" fill="#2b2b2b">4</text>
<text x="117.50" y="916.35" font-size="27" font-weight="400" text-anchor="end" fill="#2b2b2b">2</text>
<text x="117.30" y="1064.35" font-size="27" font-weight="400" text-anchor="end" fill="#2b2b2b">0</text>
<text x="117.50" y="1211.35" font-size="27" font-weight="400" text-anchor="end" fill="#2b2b2b">&#8722;2</text>
<text x="155.75" y="1355.05" font-size="27" font-weight="400" text-anchor="middle" fill="#2b2b2b">&#8722;4</text>
<text x="281.25" y="1355.05" font-size="27" font-weight="400" text-anchor="middle" fill="#2b2b2b">&#8722;2</text>
<text x="405.55" y="1355.00" font-size="27" font-weight="400" text-anchor="middle" fill="#2b2b2b">0</text>
<text x="531.25" y="1355.00" font-size="27" font-weight="400" text-anchor="middle" fill="#2b2b2b">2</text>
<text x="900.50" y="811.55" font-size="27" font-weight="400" text-anchor="end" fill="#2b2b2b">5.0</text>
<text x="900.30" y="946.80" font-size="27" font-weight="400" text-anchor="end" fill="#2b2b2b">2.5</text>
<text x="900.30" y="1083.55" font-size="27" font-weight="400" text-anchor="end" fill="#2b2b2b">0.0</text>
<text x="903.10" y="1216.10" font-size="27" font-weight="400" text-anchor="end" fill="#2b2b2b">&#8722;2.5</text>
<text x="935.05" y="1371.95" font-size="27" font-weight="400" text-anchor="middle" fill="#2b2b2b">&#8722;4</text>
<text x="1046.70" y="1371.95" font-size="27" font-weight="400" text-anchor="middle" fill="#2b2b2b">&#8722;2</text>
<text x="1157.90" y="1372.05" font-size="27" font-weight="400" text-anchor="middle" fill="#2b2b2b">0</text>
<text x="1270.10" y="1372.05" font-size="27" font-weight="400" text-anchor="middle" fill="#2b2b2b">2</text>
<text x="633.70" y="682.45" font-size="34" font-weight="400" text-anchor="start" fill="#000">CCA Axis 1</text>
<text x="288.20" y="1395.30" font-size="34" font-weight="400" text-anchor="start" fill="#000">CCA Axis 1</text>
<text x="1060.30" y="1412.70" font-size="34" font-weight="400" text-anchor="start" fill="#000">CCA Axis 1</text>
<text x="0" y="0" transform="translate(33.20 393.40) rotate(-90)" font-size="34" font-weight="400" text-anchor="start" fill="#000">CCA Axis 2</text>
<text x="0" y="0" transform="translate(69.40 1106.40) rotate(-90)" font-size="34" font-weight="400" text-anchor="start" fill="#000">CCA Axis 2</text>
<text x="1402.20" y="525.65" font-size="28.6" font-weight="400" text-anchor="start" fill="#000">H</text>
<text x="1401.20" y="578.10" font-size="28.6" font-weight="400" text-anchor="start" fill="#000">C</text>
</svg>
</body></html>
